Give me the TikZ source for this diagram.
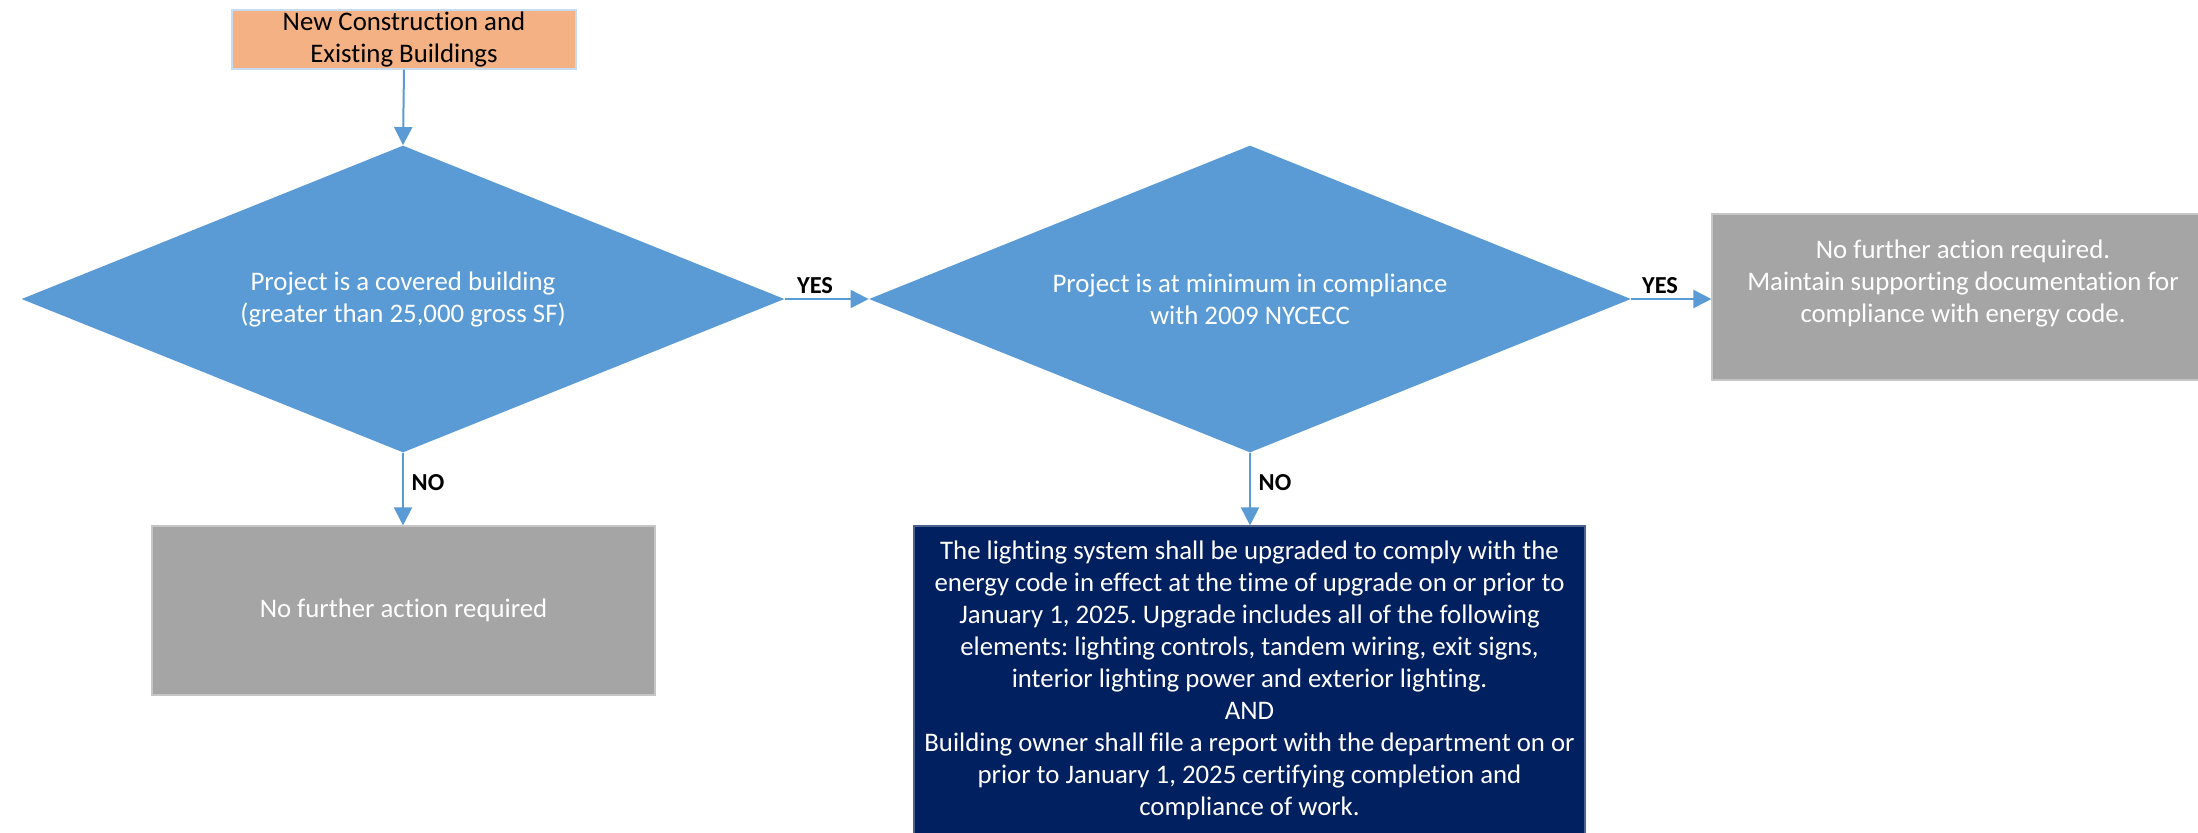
\documentclass[tikz,border=0pt]{standalone}
\usepackage{fontspec}
\setmainfont[Ligatures=NoCommon]{Carlito}
\frenchspacing
\usetikzlibrary{shapes.geometric,arrows.meta}
\definecolor{dblue}{HTML}{5B9BD5}
\definecolor{orng}{HTML}{F4B183}
\definecolor{gry}{HTML}{A5A5A5}
\definecolor{navyc}{HTML}{002060}
\begin{document}
\begin{tikzpicture}[x=0.5pt,y=-0.5pt,
  txt/.style={font=\fontsize{13.4}{16}\selectfont, align=center, inner sep=0pt},
  boxn/.style={rectangle, inner sep=0pt, line width=0.6pt},
  dia/.style={diamond, fill=dblue, aspect=2.5, inner sep=0pt, text=white,
     font=\fontsize{13.4}{16}\selectfont, align=center},
  arr/.style={draw=dblue, line width=1pt, -{Triangle[length=9pt,width=9pt]}},
  lbl/.style={font=\bfseries\fontsize{12.2}{14}\selectfont, inner sep=0pt}]
\useasboundingbox (0,0) rectangle (2198,832);
\fill[white] (0,0) rectangle (2198,832);

\node[boxn, txt, fill=orng, draw=dblue!35, minimum width=172pt, minimum height=29.5pt] (start) at (404,39.5) {New Construction and\\Existing Buildings};

\node[dia, minimum width=381.5pt, minimum height=153.5pt] (d1) at (403,299) {Project is a covered building\\(greater than 25,000 gross SF)};
\node[dia, minimum width=381pt, minimum height=153.5pt] (d2) at (1250,299) {Project is at minimum in compliance\\with 2009 NYCECC\hspace{17pt}};

\node[boxn, fill=gry, draw=gray!45, minimum width=251pt, minimum height=83pt] (rbox) at (1963,297) {};
\node[txt, text=white] (rtext) at (1963,283) {No further action required.\\Maintain supporting documentation for\\compliance with energy code.};

\node[boxn, txt, fill=gry, draw=gray!45, text=white, minimum width=251.5pt, minimum height=84.5pt] (lbox) at (403.5,610.5) {No further action required};

\node[boxn, txt, fill=navyc, draw=navyc!70!white, text=white, minimum width=335.5pt, minimum height=154.5pt] (nbox) at (1249.5,680.5) {The lighting system shall be upgraded to comply with the\\energy code in effect at the time of upgrade on or prior to\\January 1, 2025. Upgrade includes all of the following\\elements: lighting controls, tandem wiring, exit signs,\\interior lighting power and exterior lighting.\\AND\\Building owner shall file a report with the department on or\\prior to January 1, 2025 certifying completion and\\compliance of work.};

\draw[arr] (start.south) -- (d1.north);
\draw[arr] (d1.east) -- (d2.west);
\draw[arr] (d2.east) -- (d2.east -| rbox.west);
\draw[arr] (d1.south) -- (d1.south |- lbox.north);
\draw[arr] (d2.south) -- (d2.south |- nbox.north);

\node[lbl] (yes1) at (815,286) {YES};
\node[lbl] (yes2) at (1660,286) {YES};
\node[lbl] (no1) at (428,483) {NO};
\node[lbl] (no2) at (1275,483) {NO};
\end{tikzpicture}
\end{document}
